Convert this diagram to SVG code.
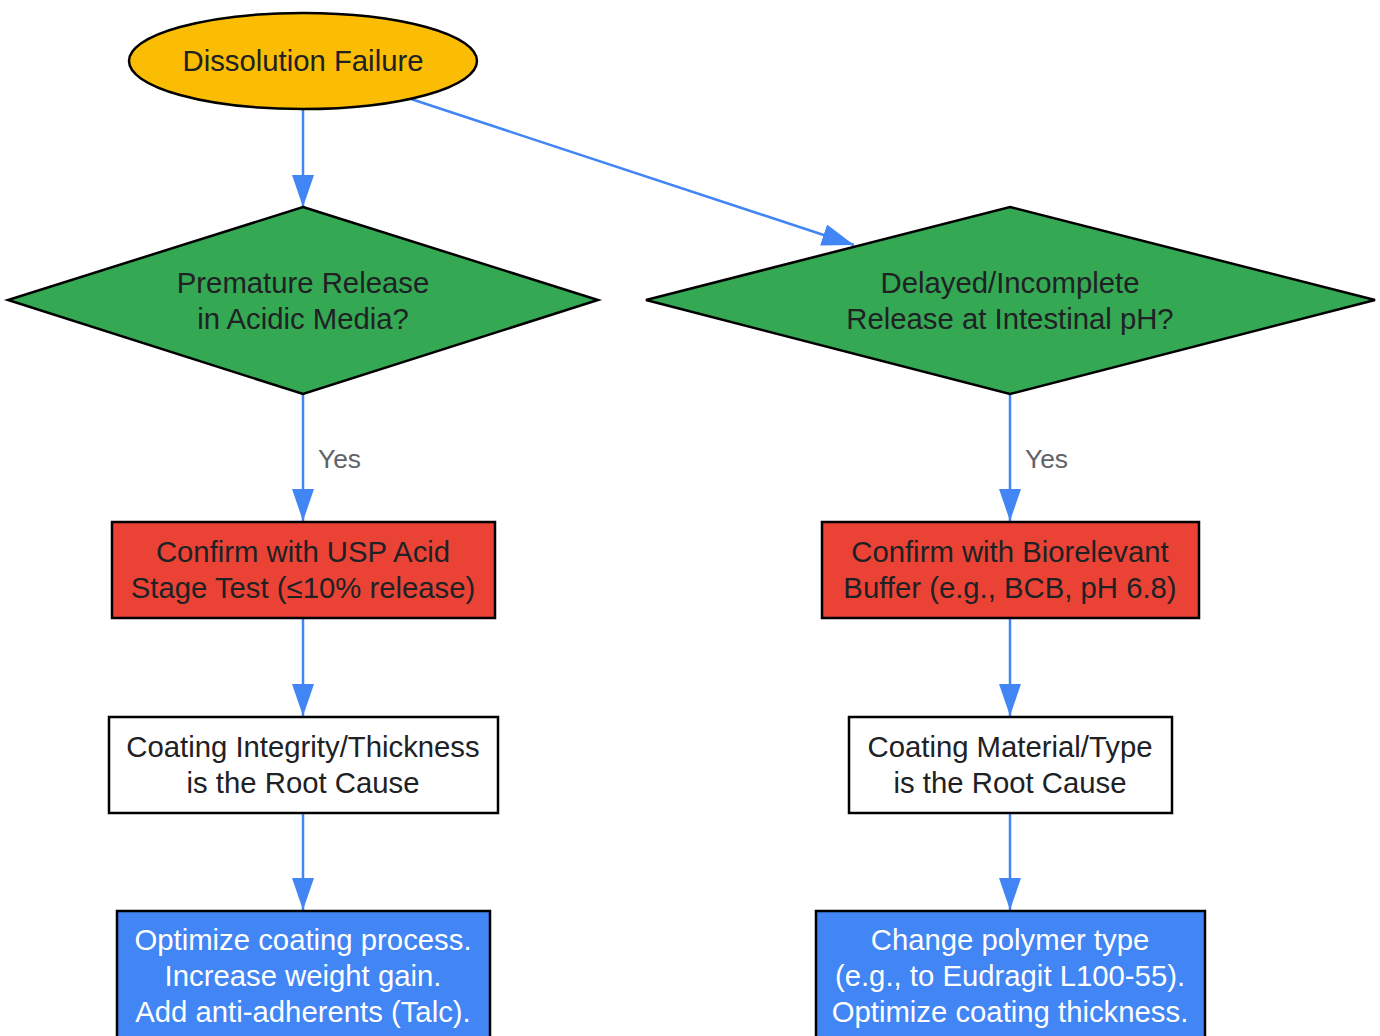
<svg xmlns="http://www.w3.org/2000/svg" width="1380" height="1036" viewBox="0 0 1380 1036">
<style>
text{font-family:"Liberation Sans",Arial,sans-serif;font-size:29.3px;text-anchor:middle;dominant-baseline:central;fill:#202124}
.shape{stroke:#000;stroke-width:2.5}
.w text{fill:#fff}
.edge{stroke:#4285F4;stroke-width:2.5;fill:none;marker-end:url(#ah)}
.lbl{fill:#5f6368;font-size:26.4px;text-anchor:start}
</style>
<defs>
<marker id="ah" markerUnits="userSpaceOnUse" markerWidth="34" markerHeight="24" refX="32" refY="11" orient="auto">
<path d="M0,0 L32,11 L0,22 z" fill="#4285F4"/>
</marker>
</defs>
<rect width="1380" height="1036" fill="#fff"/>
<g id="connectors">
<line class="edge" x1="303" y1="109" x2="303" y2="207"/>
<line class="edge" x1="411" y1="99" x2="854" y2="245"/>
<line class="edge" x1="303" y1="394" x2="303" y2="521"/>
<text class="lbl" x="318" y="459">Yes</text>
<line class="edge" x1="1010" y1="394" x2="1010" y2="521"/>
<text class="lbl" x="1025" y="459">Yes</text>
<line class="edge" x1="303" y1="618" x2="303" y2="716"/>
<line class="edge" x1="1010" y1="618" x2="1010" y2="716"/>
<line class="edge" x1="303" y1="813" x2="303" y2="910"/>
<line class="edge" x1="1010" y1="813" x2="1010" y2="910"/>
</g>
<g id="start">
<ellipse class="shape" cx="303" cy="61" rx="174" ry="48" fill="#FBBC04"/>
<text x="303" y="60">Dissolution Failure</text>
</g>
<g id="q1">
<polygon class="shape" points="303,207 598,300 303,394 8,300" fill="#34A853"/>
<text x="303" y="282">Premature Release</text>
<text x="303" y="318">in Acidic Media?</text>
</g>
<g id="q2">
<polygon class="shape" points="1010,207 1375,300 1010,394 646,300" fill="#34A853"/>
<text x="1010" y="282">Delayed/Incomplete</text>
<text x="1010" y="318">Release at Intestinal pH?</text>
</g>
<g id="c1">
<rect class="shape" x="112" y="522" width="383" height="96" fill="#EA4335"/>
<text x="303" y="551">Confirm with USP Acid</text>
<text x="303" y="587">Stage Test (≤10% release)</text>
</g>
<g id="c2">
<rect class="shape" x="822" y="522" width="377" height="96" fill="#EA4335"/>
<text x="1010" y="551">Confirm with Biorelevant</text>
<text x="1010" y="587">Buffer (e.g., BCB, pH 6.8)</text>
</g>
<g id="r1">
<rect class="shape" x="109" y="717" width="389" height="96" fill="#fff"/>
<text x="303" y="746">Coating Integrity/Thickness</text>
<text x="303" y="782">is the Root Cause</text>
</g>
<g id="r2">
<rect class="shape" x="849" y="717" width="323" height="96" fill="#fff"/>
<text x="1010" y="746">Coating Material/Type</text>
<text x="1010" y="782">is the Root Cause</text>
</g>
<g id="a1" class="w">
<rect class="shape" x="117" y="911" width="373" height="150" fill="#4285F4"/>
<text x="303" y="939">Optimize coating process.</text>
<text x="303" y="975">Increase weight gain.</text>
<text x="303" y="1011">Add anti-adherents (Talc).</text>
</g>
<g id="a2" class="w">
<rect class="shape" x="816" y="911" width="389" height="150" fill="#4285F4"/>
<text x="1010" y="939">Change polymer type</text>
<text x="1010" y="975">(e.g., to Eudragit L100-55).</text>
<text x="1010" y="1011">Optimize coating thickness.</text>
</g>
</svg>
